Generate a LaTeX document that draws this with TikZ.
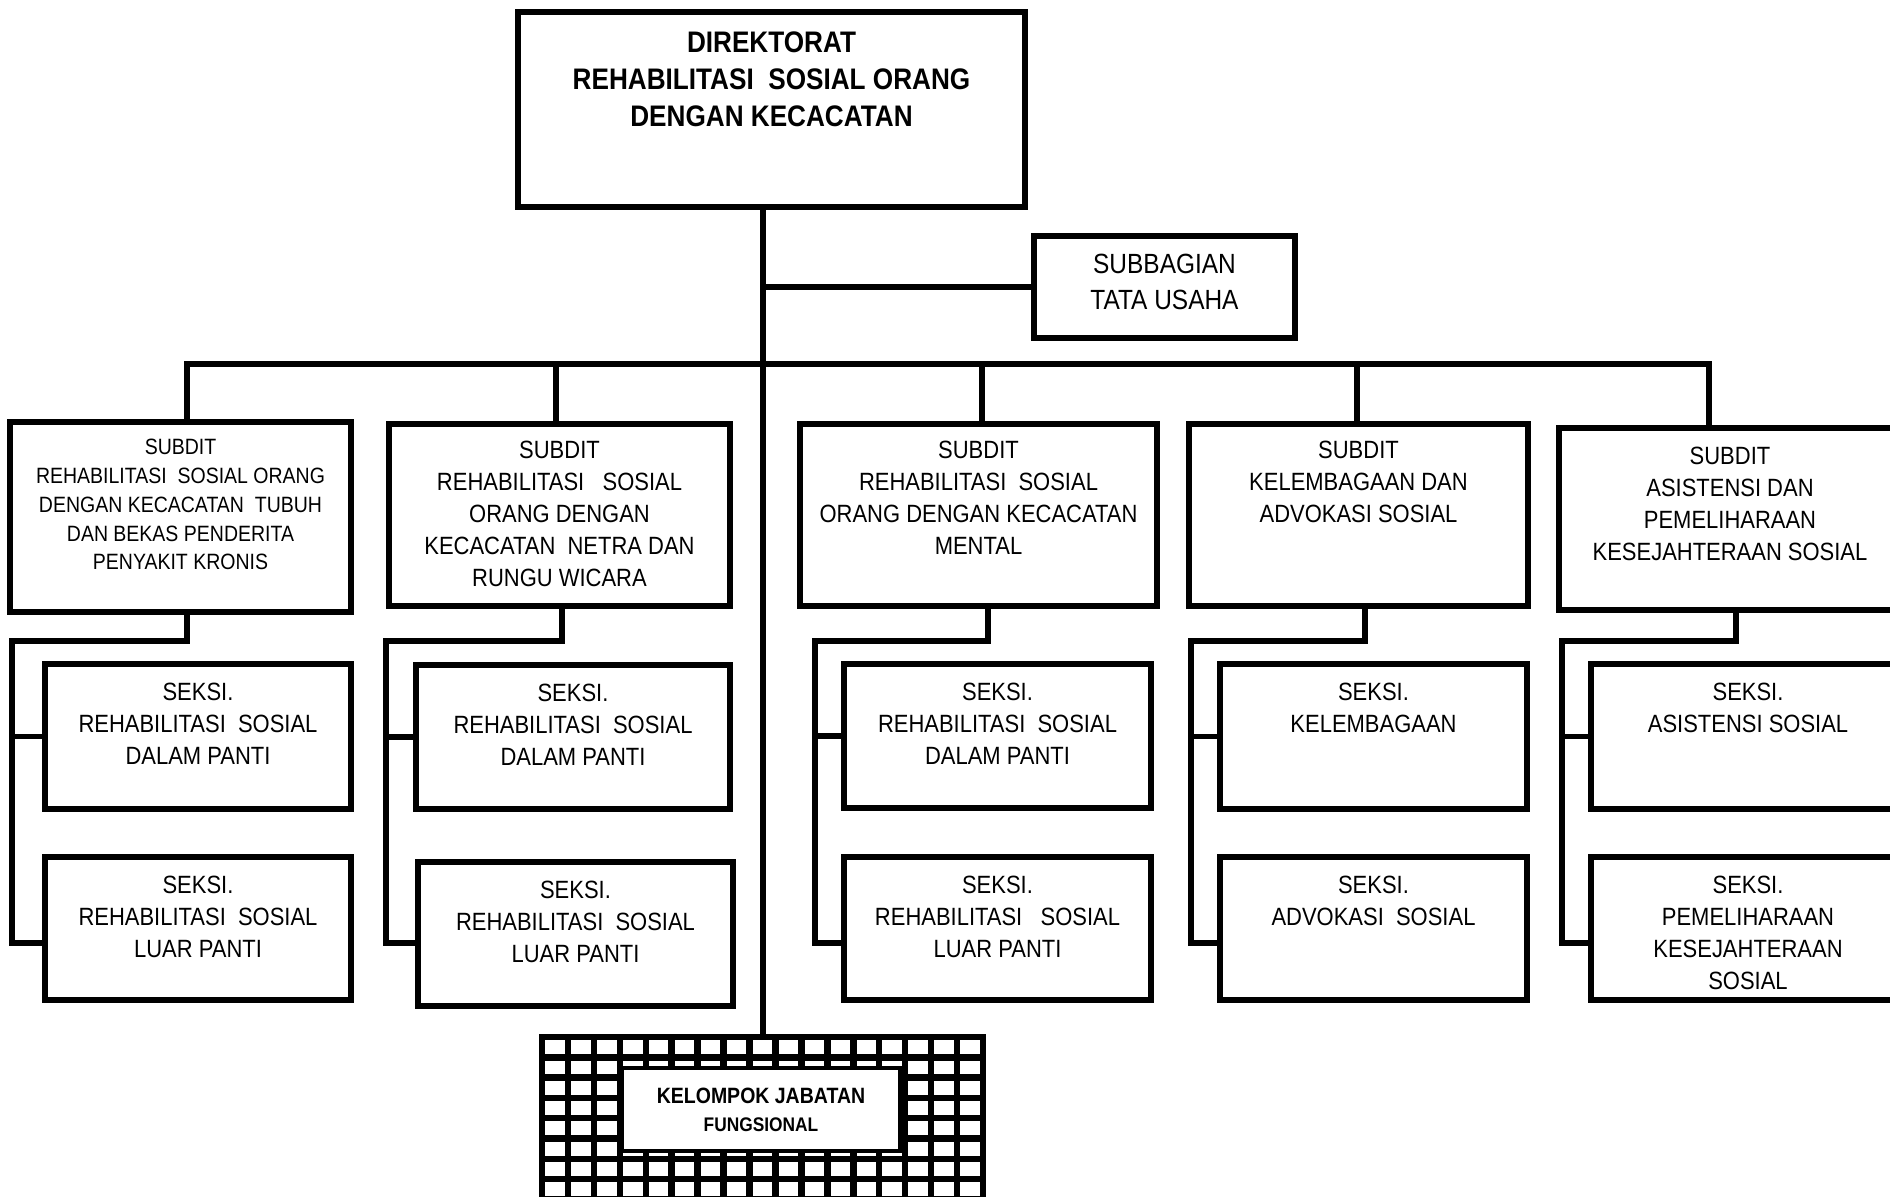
\documentclass[tikz,border=0pt]{standalone}
\usepackage{fontspec}
\setmainfont{Liberation Sans}[FakeStretch=0.88]
\usetikzlibrary{positioning}

\tikzset{
  kotak/.style={draw, line width=1.5pt, inner sep=0pt, fill=white},
  garis/.style={line width=1.5pt},
  isi/.style={inner sep=0pt, align=center, font=\fontsize{7.1}{9.1}\selectfont},
}

\begin{document}
\begin{tikzpicture}[x=0.01cm, y=-0.01cm]
      \useasboundingbox (0,0) rectangle (1890,1196);
      \clip (0,0) rectangle (1890,1196);

      \node [kotak, line width=1.7pt, minimum width=5.07cm, minimum height=1.95cm] (dir) at (771.5,109.5) {};
      \node [isi, font=\bfseries\fontsize{8.45}{10.6}\selectfont, below=0.22cm of dir.north] (dirtxt) {DIREKTORAT\\REHABILITASI~~SOSIAL ORANG\\DENGAN KECACATAN};

      \node [kotak, minimum width=2.61cm, minimum height=1.02cm] (tu) at (1164.5,287) {};
      \node [isi, font=\fontsize{7.9}{10.3}\selectfont, yshift=0.05cm] (tutxt) at (tu) {SUBBAGIAN\\TATA USAHA};

      \node [kotak, minimum width=3.41cm, minimum height=1.90cm] (sd1) at (180.5,517) {};
      \node [kotak, minimum width=3.41cm, minimum height=1.82cm] (sd2) at (559.5,515) {};
      \node [kotak, minimum width=3.57cm, minimum height=1.82cm] (sd3) at (978.5,515) {};
      \node [kotak, minimum width=3.39cm, minimum height=1.82cm] (sd4) at (1358.5,515) {};
      \node [kotak, minimum width=3.42cm, minimum height=1.82cm] (sd5) at (1730,519) {};
      \node [isi, font=\fontsize{6.3}{8.2}\selectfont, below=0.19cm of sd1.north] (sd1txt) {SUBDIT\\REHABILITASI~~SOSIAL ORANG\\DENGAN KECACATAN~~TUBUH\\DAN BEKAS PENDERITA\\PENYAKIT KRONIS};
      \node [isi, below=0.195cm of sd2.north] (sd2txt) {SUBDIT\\REHABILITASI~~~SOSIAL\\ORANG DENGAN\\KECACATAN~~NETRA DAN\\RUNGU WICARA};
      \node [isi, below=0.195cm of sd3.north] (sd3txt) {SUBDIT\\REHABILITASI~~SOSIAL\\ORANG DENGAN KECACATAN\\MENTAL};
      \node [isi, below=0.195cm of sd4.north] (sd4txt) {SUBDIT\\KELEMBAGAAN DAN\\ADVOKASI SOSIAL};
      \node [isi, below=0.215cm of sd5.north] (sd5txt) {SUBDIT\\ASISTENSI DAN\\PEMELIHARAAN\\KESEJAHTERAAN SOSIAL};

      \node [kotak, minimum width=3.06cm, minimum height=1.45cm] (s1a) at (198,736.5) {};
      \node [kotak, minimum width=3.06cm, minimum height=1.43cm] (s1b) at (198,928.5) {};
      \node [kotak, minimum width=3.14cm, minimum height=1.44cm] (s2a) at (573,737) {};
      \node [kotak, minimum width=3.15cm, minimum height=1.44cm] (s2b) at (575.5,934) {};
      \node [kotak, minimum width=3.07cm, minimum height=1.44cm] (s3a) at (997.5,736) {};
      \node [kotak, minimum width=3.07cm, minimum height=1.43cm] (s3b) at (997.5,928.5) {};
      \node [kotak, minimum width=3.07cm, minimum height=1.45cm] (s4a) at (1373.5,736.5) {};
      \node [kotak, minimum width=3.07cm, minimum height=1.43cm] (s4b) at (1373.5,928.5) {};
      \node [kotak, minimum width=3.14cm, minimum height=1.45cm] (s5a) at (1748,736.5) {};
      \node [kotak, minimum width=3.14cm, minimum height=1.43cm] (s5b) at (1748,928.5) {};
      \node [isi, below=0.215cm of s1a.north] (s1atxt) {SEKSI.\\REHABILITASI~~SOSIAL\\DALAM PANTI};
      \node [isi, below=0.215cm of s1b.north] (s1btxt) {SEKSI.\\REHABILITASI~~SOSIAL\\LUAR PANTI};
      \node [isi, below=0.215cm of s2a.north] (s2atxt) {SEKSI.\\REHABILITASI~~SOSIAL\\DALAM PANTI};
      \node [isi, below=0.215cm of s2b.north] (s2btxt) {SEKSI.\\REHABILITASI~~SOSIAL\\LUAR PANTI};
      \node [isi, below=0.215cm of s3a.north] (s3atxt) {SEKSI.\\REHABILITASI~~SOSIAL\\DALAM PANTI};
      \node [isi, below=0.215cm of s3b.north] (s3btxt) {SEKSI.\\REHABILITASI~~~SOSIAL\\LUAR PANTI};
      \node [isi, below=0.215cm of s4a.north] (s4atxt) {SEKSI.\\KELEMBAGAAN};
      \node [isi, below=0.215cm of s4b.north] (s4btxt) {SEKSI.\\ADVOKASI~~SOSIAL};
      \node [isi, below=0.215cm of s5a.north] (s5atxt) {SEKSI.\\ASISTENSI SOSIAL};
      \node [isi, below=0.215cm of s5b.north] (s5btxt) {SEKSI.\\PEMELIHARAAN\\KESEJAHTERAAN\\SOSIAL};

      \node [inner sep=0pt, minimum width=4.41cm, minimum height=1.65cm, anchor=north west] (jf) at (542,1037) {};
      \fill (538.75,1033.75) rectangle (986.25,1210);
      \foreach \i in {0,...,16}
        \foreach \j in {0,...,7}
          \fill [white] ({542+\i*25.94+3.25},{1037+\j*20.3+3.25}) rectangle ++(19.44,13.8);
      \node [draw, fill=white, line width=1pt, minimum width=2.78cm, minimum height=0.83cm] (kjf) at (761,1109.5) {};
      \node [isi, font=\bfseries\fontsize{6.3}{8}\selectfont] (kjftxt) at (kjf) {KELOMPOK JABATAN\\{\fontsize{5.6}{8}\selectfont FUNGSIONAL}};

      \coordinate (trunk) at (763,0);
      \coordinate (b1) at (187,364);
      \coordinate (b2) at (556,364);
      \coordinate (b3) at (982,364);
      \coordinate (b4) at (1357,364);
      \coordinate (b5) at (1709,364);
      \coordinate (k1) at (12,641);
      \coordinate (k2) at (386,641);
      \coordinate (k3) at (815,641);
      \coordinate (k4) at (1191,641);
      \coordinate (k5) at (1562,641);

      \draw [garis] (trunk |- dir.south) -- (trunk |- jf.north);
      \draw [garis] (trunk |- tu.west) -- (tu.west);
      \draw [garis] (b1 |- sd1.north) -- (b1) -- (b5) -- (b5 |- sd5.north);
      \draw [garis] (b2) -- (b2 |- sd2.north);
      \draw [garis] (b3) -- (b3 |- sd3.north);
      \draw [garis] (b4) -- (b4 |- sd4.north);

      \draw [garis] ([xshift=0.065cm]sd1.south) |- (k1) |- ([yshift=-0.145cm]s1b.west);
      \draw [garis] ([xshift=0.025cm]sd2.south) |- (k2) |- ([yshift=-0.09cm]s2b.west);
      \draw [garis] ([xshift=0.095cm]sd3.south) |- (k3) |- ([yshift=-0.145cm]s3b.west);
      \draw [garis] ([xshift=0.065cm]sd4.south) |- (k4) |- ([yshift=-0.145cm]s4b.west);
      \draw [garis] ([xshift=0.06cm]sd5.south) |- (k5) |- ([yshift=-0.145cm]s5b.west);
      \draw [garis] (k1 |- s1a.west) -- (s1a.west);
      \draw [garis] (k2 |- s2a.west) -- (s2a.west);
      \draw [garis] (k3 |- s3a.west) -- (s3a.west);
      \draw [garis] (k4 |- s4a.west) -- (s4a.west);
      \draw [garis] (k5 |- s5a.west) -- (s5a.west);
\end{tikzpicture}
\end{document}
